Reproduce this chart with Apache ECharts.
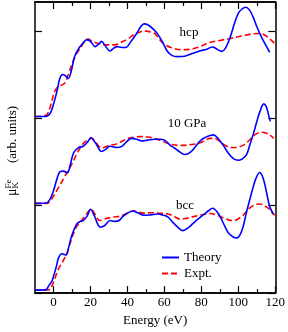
<!DOCTYPE html>
<html>
<head>
<meta charset="utf-8">
<script src="https://cdn.jsdelivr.net/npm/echarts@6/dist/echarts.min.js"></script>
<style>html,body{margin:0;padding:0;background:#fff}#c{width:288px;height:332px}</style>
</head>
<body>
<div id="c"></div>
<script>
// Energy (eV) vs normalized absorption, each curve shifted by its offset
const xTickMajor = [0, 20, 40, 60, 80, 100, 120];
const xTickMinor = [10, 30, 50, 70, 90, 110];
const yTicks = [0, 1, 2, 3];
const phaseLabels = ['hcp', '10 GPa', 'bcc'];
const offsets = { hcp: 2, gpa10: 1, bcc: 0 };

const hcpTheory = [[-10,0.02],[-5,0.02],[-2,0.05],[0,0.16],[2,0.32],[3.5,0.46],[5,0.50],[6.5,0.485],[8,0.455],[9.5,0.53],[11.5,0.71],[14,0.81],[16,0.86],[18,0.90],[20,0.88],[22.5,0.82],[24.5,0.85],[26,0.88],[28,0.83],[30.5,0.77],[32.5,0.80],[34.5,0.82],[37,0.81],[39,0.81],[42,0.88],[45,0.97],[47,1.04],[49,1.08],[51,1.07],[54,1.02],[56.5,0.96],[59,0.87],[61.5,0.77],[64,0.72],[67,0.705],[71,0.71],[75,0.74],[79,0.77],[83,0.79],[86,0.815],[88.5,0.79],[91,0.765],[93,0.80],[95.5,0.92],[98,1.09],[100,1.20],[102,1.25],[104,1.27],[106,1.24],[108,1.16],[110,1.05],[112.5,0.93],[115,0.83],[117,0.755]];
const hcpExpt = [[-10,0.02],[-4.5,0.03],[-3,0.06],[-1.5,0.15],[0.5,0.30],[2,0.35],[3.6,0.37],[6,0.40],[8,0.50],[10.5,0.65],[12.5,0.74],[14.5,0.80],[16.5,0.87],[18.8,0.905],[21,0.88],[23.4,0.86],[28,0.84],[33,0.84],[37.7,0.88],[40.5,0.91],[43,0.95],[46,0.98],[49.4,1.00],[52,0.99],[54.7,0.97],[57.8,0.89],[60.5,0.84],[63.5,0.81],[66.7,0.79],[70,0.785],[74.5,0.79],[78,0.81],[81.6,0.84],[85,0.87],[90,0.89],[95,0.91],[100.5,0.935],[106,0.96],[111,0.97],[114,0.955],[117.5,0.90],[119.5,0.86]];
const gpa10Theory = [[-10,0.026],[-4,0.03],[-2,0.07],[0,0.17],[1.5,0.28],[3.6,0.39],[5.4,0.395],[7.5,0.375],[9,0.46],[10.8,0.60],[13.5,0.665],[16.1,0.68],[18.5,0.73],[20.3,0.78],[22,0.74],[23.4,0.695],[26,0.62],[28,0.64],[30.5,0.68],[32,0.675],[34.1,0.665],[36.8,0.675],[39.5,0.73],[42.2,0.77],[45,0.76],[47.6,0.74],[51,0.75],[54.7,0.76],[57.5,0.76],[60.1,0.75],[63.2,0.69],[65.5,0.66],[68,0.62],[71,0.585],[74,0.61],[77,0.68],[79.3,0.74],[82,0.78],[86.5,0.81],[89,0.77],[91.9,0.69],[94,0.62],[96,0.565],[98,0.53],[100.5,0.52],[102.5,0.54],[104.4,0.58],[106,0.68],[108,0.81],[110,0.96],[111.6,1.07],[113.8,1.165],[115,1.14],[116,1.07],[117.3,0.965]];
const gpa10Expt = [[-10,0.026],[-3.5,0.026],[-1.5,0.06],[0,0.11],[2,0.18],[3.6,0.24],[5.5,0.31],[7.2,0.375],[9,0.44],[10.8,0.51],[12.5,0.59],[14.4,0.66],[17,0.73],[20.7,0.77],[23,0.72],[26,0.66],[28,0.67],[30.5,0.695],[33.2,0.70],[35.9,0.725],[40.4,0.77],[44,0.785],[47.6,0.79],[51,0.785],[54.7,0.77],[58,0.745],[61,0.72],[63.7,0.70],[67,0.69],[70.9,0.69],[74.5,0.70],[78,0.71],[81.6,0.74],[84.7,0.77],[87,0.77],[90,0.735],[93,0.69],[95.5,0.665],[98.5,0.665],[102.5,0.69],[105.5,0.74],[108.3,0.80],[110.5,0.83],[113,0.84],[115,0.83],[117,0.81],[119.2,0.77]];
const bccTheory = [[-10,0.034],[-4,0.04],[-2.7,0.08],[-1,0.13],[0,0.19],[1.5,0.30],[2.7,0.40],[4.5,0.45],[6.8,0.435],[8.3,0.53],[9.9,0.66],[12.6,0.79],[14.5,0.82],[16.1,0.83],[18.2,0.88],[20.1,0.96],[22.2,0.88],[25.3,0.755],[27.5,0.77],[30.7,0.83],[33.2,0.82],[35.5,0.83],[37.7,0.88],[40.5,0.92],[43,0.94],[45.5,0.92],[49,0.89],[52.5,0.895],[56.5,0.905],[59.6,0.89],[62,0.87],[65,0.80],[67.5,0.75],[70,0.715],[72.5,0.74],[75.7,0.80],[79,0.86],[82,0.91],[84,0.945],[86.1,0.97],[88.5,0.93],[91,0.84],[92.8,0.76],[94.6,0.69],[97,0.645],[99,0.63],[101,0.67],[102.6,0.76],[104.5,0.93],[107.1,1.14],[109.5,1.31],[111.6,1.38],[113,1.34],[114.3,1.25],[115.5,1.13],[117,0.99],[118.9,0.905]];
const bccExpt = [[-10,0.034],[-2,0.04],[-0.9,0.08],[0.5,0.15],[1.8,0.23],[3,0.29],[4.5,0.34],[6,0.40],[7.2,0.455],[9,0.57],[10.8,0.68],[12.5,0.76],[14.4,0.81],[17,0.88],[20.3,0.96],[22.5,0.90],[25.1,0.83],[28,0.85],[32.3,0.87],[36,0.88],[39.5,0.91],[43,0.94],[48.8,0.915],[53,0.92],[57,0.915],[61.9,0.905],[65,0.88],[68.6,0.845],[72,0.855],[75.7,0.875],[80,0.895],[84.7,0.91],[88,0.895],[92,0.86],[95,0.835],[97.4,0.83],[100,0.85],[102.6,0.89],[105.5,0.96],[108.9,1.01],[111.6,1.02],[114,1.0],[116.3,0.97],[118,0.93],[119.8,0.89]];

const FONT = "'Liberation Serif','Times New Roman',serif";
const BLUE = '#0000ff', RED = '#ff0000';

function shift(arr, off) { return arr.map(p => [p[0], p[1] + off]); }
function theory(arr, off) {
  return { name: 'Theory', type: 'line', data: shift(arr, off), showSymbol: false, symbol: 'none', smooth: 0.35,
    lineStyle: { color: BLUE, width: 1.6 }, itemStyle: { color: BLUE }, z: 3 };
}
function expt(arr, off) {
  return { name: 'Expt.', type: 'line', data: shift(arr, off), showSymbol: false, symbol: 'none', smooth: 0.35,
    lineStyle: { color: RED, width: 1.6, type: [6, 3] }, itemStyle: { color: RED }, z: 2 };
}
const axLine = { show: true, onZero: false, lineStyle: { color: '#000', width: 1.5 } };
function xAx(pos, ticks, len, labels, extra) {
  return Object.assign({
    type: 'value', position: pos, min: -10, max: 120,
    axisLine: axLine, splitLine: { show: false },
    axisTick: { show: true, inside: true, length: len, customValues: ticks, lineStyle: { color: '#000', width: 1.2 } },
    axisLabel: labels ? { show: true, customValues: ticks, color: '#000', fontFamily: FONT, fontSize: 13, margin: 3 } : { show: false }
  }, extra || {});
}
function yAx(pos) {
  return { type: 'value', position: pos, min: 0, max: 3.33,
    axisLine: axLine, splitLine: { show: false },
    axisTick: { show: true, inside: true, length: 7, customValues: yTicks, lineStyle: { color: '#000', width: 1.2 } },
    axisLabel: { show: false } };
}

const chart = echarts.init(document.getElementById('c'), null, { renderer: 'canvas' });
chart.setOption({
  animation: false,
  backgroundColor: '#fff',
  grid: { left: 35, right: 11, top: 2, bottom: 35 },
  xAxis: [
    xAx('bottom', xTickMajor, 7, true, { name: 'Energy (eV)', nameLocation: 'middle', nameGap: 18,
      nameTextStyle: { color: '#000', fontFamily: FONT, fontSize: 13 } }),
    xAx('bottom', xTickMinor, 4, false),
    xAx('top', xTickMajor, 7, false),
    xAx('top', xTickMinor, 4, false)
  ],
  yAxis: [yAx('left'), yAx('right')],
  legend: {
    data: ['Theory', 'Expt.'], orient: 'vertical', left: 161, top: 251, padding: 0,
    itemWidth: 17, itemHeight: 14, itemGap: 3,
    itemStyle: { opacity: 0 },
    textStyle: { color: '#000', fontFamily: FONT, fontSize: 13 }
  },
  series: [
    theory(hcpTheory, offsets.hcp), expt(hcpExpt, offsets.hcp),
    theory(gpa10Theory, offsets.gpa10), expt(gpa10Expt, offsets.gpa10),
    theory(bccTheory, offsets.bcc), expt(bccExpt, offsets.bcc)
  ],
  graphic: [
    { type: 'text', x: 189, y: 33, style: { text: phaseLabels[0], font: '13px ' + FONT, fill: '#000', textAlign: 'center', textVerticalAlign: 'middle' } },
    { type: 'text', x: 187, y: 124, style: { text: phaseLabels[1], font: '13px ' + FONT, fill: '#000', textAlign: 'center', textVerticalAlign: 'middle' } },
    { type: 'text', x: 185, y: 206, style: { text: phaseLabels[2], font: '13px ' + FONT, fill: '#000', textAlign: 'center', textVerticalAlign: 'middle' } },
    { type: 'group', x: 12.5, y: 150, rotation: Math.PI / 2, children: [
      { type: 'text', x: -46, y: 0, style: { text: 'μ', font: '14px ' + FONT, fill: '#000', textAlign: 'left', textVerticalAlign: 'middle' } },
      { type: 'text', x: -38.5, y: 3, style: { text: 'K', font: '9px ' + FONT, fill: '#000', textAlign: 'left', textVerticalAlign: 'middle' } },
      { type: 'text', x: -38.5, y: -4, style: { text: 'Fe', font: '9px ' + FONT, fill: '#000', textAlign: 'left', textVerticalAlign: 'middle' } },
      { type: 'text', x: -13, y: 0, style: { text: '(arb. units)', font: '13px ' + FONT, fill: '#000', textAlign: 'left', textVerticalAlign: 'middle' } }
    ] }
  ]
});
</script>
</body>
</html>
